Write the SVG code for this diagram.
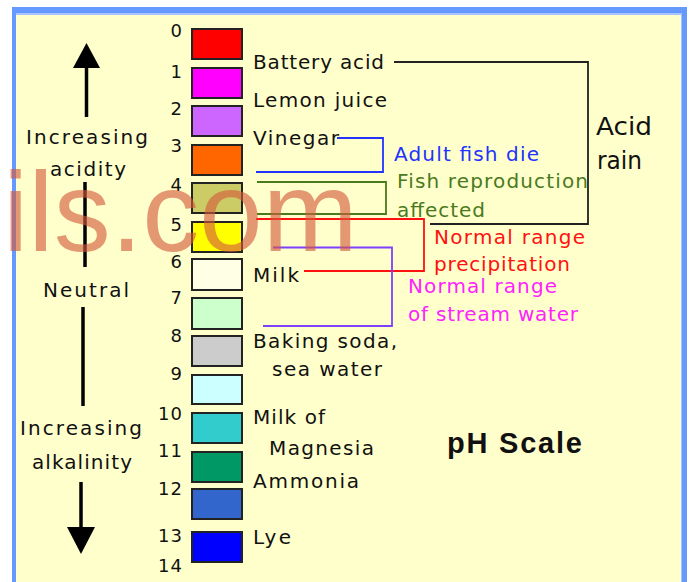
<svg xmlns="http://www.w3.org/2000/svg" width="691" height="582" viewBox="0 0 691 582">
<style>
.t{font-family:"DejaVu Sans","Liberation Sans",sans-serif;font-size:20px;fill:#111}
.n{font-family:"DejaVu Sans","Liberation Sans",sans-serif;font-size:18px;fill:#111;text-anchor:end;letter-spacing:1px}
.box{stroke:#222;stroke-width:2}
.br{fill:none;stroke-width:1.8}
.ax{stroke:#000;stroke-width:3.5;fill:none}
</style>
<rect x="0" y="0" width="691" height="582" fill="#FFFFFF"/>
<rect x="12" y="7" width="675" height="580" fill="#6699FF"/>
<rect x="16" y="13" width="666" height="575" fill="#A8C4FF"/>
<rect x="16" y="15" width="665" height="575" fill="#FFFFCC"/>

<g id="scale">
<g id="ph0"><rect class="box" x="192" y="29" width="50" height="30" fill="#FF0000"/><text class="n" x="183" y="36.5">0</text></g>
<g id="ph1"><rect class="box" x="192" y="68" width="50" height="30" fill="#FF00FF"/><text class="n" x="183" y="77.5">1</text></g>
<g id="ph2"><rect class="box" x="192" y="106" width="50" height="30" fill="#CC66FF"/><text class="n" x="183" y="115">2</text></g>
<g id="ph3"><rect class="box" x="192" y="145" width="50" height="30" fill="#FF6600"/><text class="n" x="183" y="151.5">3</text></g>
<g id="ph4"><rect class="box" x="192" y="183" width="50" height="30" fill="#CCCC66"/><text class="n" x="183" y="190.5">4</text></g>
<g id="ph5"><rect class="box" x="192" y="222" width="50" height="30" fill="#FFFF00"/><text class="n" x="183" y="231">5</text></g>
<g id="ph6"><rect class="box" x="192" y="259" width="50" height="31" fill="#FFFFE6"/><text class="n" x="183" y="267.5">6</text></g>
<g id="ph7"><rect class="box" x="192" y="298" width="50" height="31" fill="#CCFFCC"/><text class="n" x="183" y="303.5">7</text></g>
<g id="ph8"><rect class="box" x="192" y="336" width="50" height="30" fill="#CCCCCC"/><text class="n" x="183" y="341.5">8</text></g>
<g id="ph9"><rect class="box" x="192" y="375" width="50" height="29" fill="#CCFFFF"/><text class="n" x="183" y="380">9</text></g>
<g id="ph10"><rect class="box" x="192" y="413" width="50" height="30" fill="#33CCCC"/><text class="n" x="183" y="419.5">10</text></g>
<g id="ph11"><rect class="box" x="192" y="452" width="50" height="30" fill="#009966"/><text class="n" x="183" y="457">11</text></g>
<g id="ph12"><rect class="box" x="192" y="489" width="50" height="30" fill="#3366CC"/><text class="n" x="183" y="494.5">12</text></g>
<g id="ph13"><rect class="box" x="192" y="532" width="50" height="30" fill="#0000FF"/><text class="n" x="183" y="541.5">13</text></g>
<g id="ph14"><text class="n" x="183" y="571.5">14</text></g>
</g>

<g id="connectors">
<polygon points="86.5,43 73,68 100,68" fill="#000"/>
<line class="ax" x1="86.5" y1="66" x2="86.5" y2="117"/>
<line class="ax" x1="85" y1="182" x2="85" y2="267"/>
<line class="ax" x1="83" y1="307" x2="83" y2="406"/>
<line class="ax" x1="81" y1="482" x2="81" y2="529"/>
<polygon points="67,527 95,527 81,554" fill="#000"/>
<polyline class="br" stroke="#222222" points="394,62 588,62 588,224 430,224"/>
<polyline class="br" stroke="#2233FF" points="337,138 383,138 383,172 256,172"/>
<polyline class="br" stroke="#4A7A1E" points="257,182 386,182 386,214 257,214"/>
<polyline class="br" stroke="#FF1111" points="256,219 424,219 424,271 304,271"/>
<polyline class="br" stroke="#7F3FFF" points="273,247.5 392,247.5 392,326 263,326"/>
</g>

<g id="axis-labels">
<text class="t" x="26" y="144" textLength="122" lengthAdjust="spacing">Increasing</text>
<text class="t" x="50" y="176" textLength="76" lengthAdjust="spacing">acidity</text>
<text class="t" x="43" y="297" textLength="86" lengthAdjust="spacing">Neutral</text>
<text class="t" x="20" y="435" textLength="122" lengthAdjust="spacing">Increasing</text>
<text class="t" x="32" y="469" textLength="100" lengthAdjust="spacing">alkalinity</text>
</g>

<g id="substances">
<text class="t" x="253" y="69" textLength="131" lengthAdjust="spacing">Battery acid</text>
<text class="t" x="253" y="107" textLength="134" lengthAdjust="spacing">Lemon juice</text>
<text class="t" x="253" y="145" textLength="86" lengthAdjust="spacing">Vinegar</text>
<text class="t" x="253" y="282" textLength="46" lengthAdjust="spacing">Milk</text>
<text class="t" x="253" y="348" textLength="144" lengthAdjust="spacing">Baking soda,</text>
<text class="t" x="272" y="376" textLength="110" lengthAdjust="spacing">sea water</text>
<text class="t" x="253" y="424" textLength="72" lengthAdjust="spacing">Milk of</text>
<text class="t" x="269" y="455" textLength="105" lengthAdjust="spacing">Magnesia</text>
<text class="t" x="253" y="488" textLength="106" lengthAdjust="spacing">Ammonia</text>
<text class="t" x="253" y="544" textLength="38" lengthAdjust="spacing">Lye</text>
</g>

<g id="ranges">
<text class="t" x="394" y="161" textLength="145" lengthAdjust="spacing" style="fill:#2233FF">Adult fish die</text>
<text class="t" x="397" y="188" textLength="191" lengthAdjust="spacing" style="fill:#4A7A1E">Fish reproduction</text>
<text class="t" x="397" y="217" textLength="88" lengthAdjust="spacing" style="fill:#4A7A1E">affected</text>
<text class="t" x="434" y="244" textLength="151" lengthAdjust="spacing" style="fill:#FF1111">Normal range</text>
<text class="t" x="434" y="271" textLength="136" lengthAdjust="spacing" style="fill:#FF1111">precipitation</text>
<text class="t" x="408" y="293" textLength="149" lengthAdjust="spacing" style="fill:#FF22FF">Normal range</text>
<text class="t" x="408" y="321" textLength="170" lengthAdjust="spacing" style="fill:#FF22FF">of stream water</text>
<text class="t" x="596" y="135" textLength="56" lengthAdjust="spacingAndGlyphs" style="font-size:24px">Acid</text>
<text class="t" x="597" y="169" textLength="45" lengthAdjust="spacingAndGlyphs" style="font-size:24px">rain</text>
</g>

<g id="title">
<text x="447" y="453" textLength="135" lengthAdjust="spacing" style="font-family:'Liberation Sans',Arial,sans-serif;font-size:29px;font-weight:bold;fill:#111">pH Scale</text>
</g>

<text x="3" y="251" style="font-family:'Liberation Sans',Arial,sans-serif;font-size:114px" fill="#D45A3C" opacity="0.62">ils.com</text>
</svg>
